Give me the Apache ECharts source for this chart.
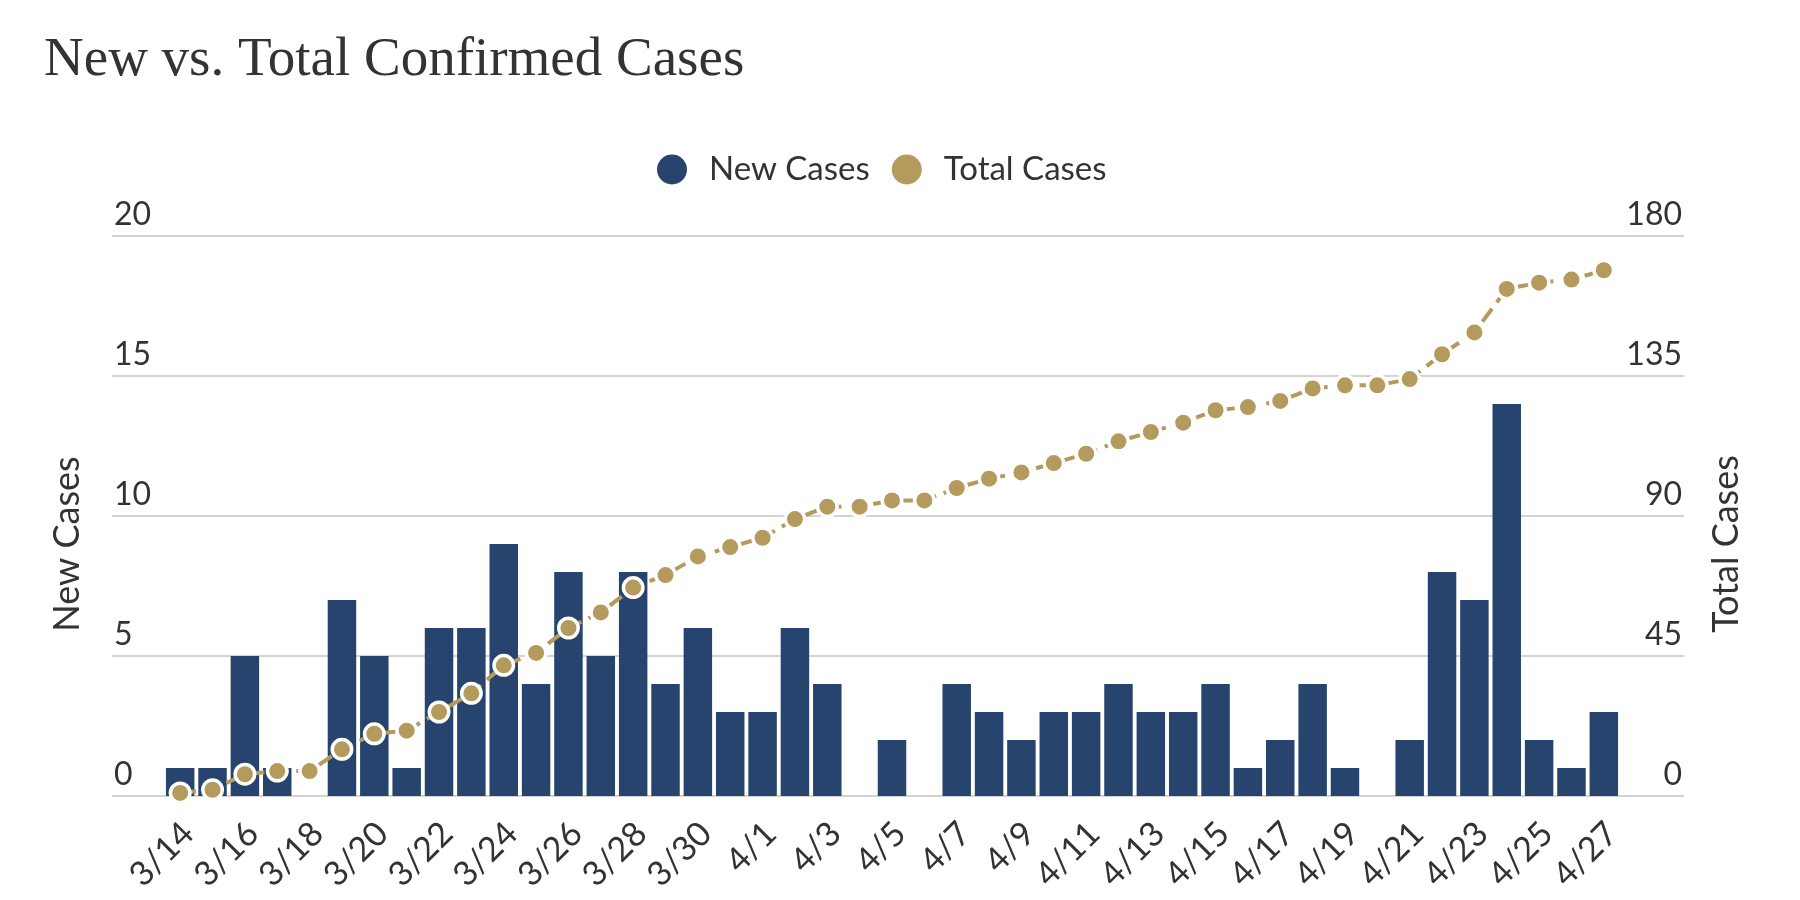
<!DOCTYPE html>
<html>
<head>
<meta charset="utf-8">
<script src="https://cdn.jsdelivr.net/npm/echarts@6/dist/echarts.min.js"></script>
<style>
html,body{margin:0;padding:0;background:#fff;}
#chart{width:1800px;height:900px;}
</style>
</head>
<body>
<div id="chart"></div>
<script>
var categories = ['3/14','3/15','3/16','3/17','3/18','3/19','3/20','3/21','3/22','3/23','3/24','3/25','3/26','3/27','3/28','3/29','3/30','3/31',
  '4/1','4/2','4/3','4/4','4/5','4/6','4/7','4/8','4/9','4/10','4/11','4/12','4/13','4/14','4/15','4/16','4/17','4/18','4/19','4/20','4/21','4/22','4/23','4/24','4/25','4/26','4/27'];
var newCases = [1,1,5,1,0,7,5,1,6,6,9,4,8,5,8,4,6,3,
  3,6,4,0,2,0,4,3,2,3,3,4,3,3,4,1,2,4,1,0,2,8,7,14,2,1,3];
var totalCases = [1,2,7,8,8,15,20,21,27,33,42,46,54,59,67,71,77,80,
  83,89,93,93,95,95,99,102,104,107,110,114,117,120,124,125,127,131,132,132,134,142,149,163,165,166,169];
var leftTicks = {min:0, max:20, interval:5};
var rightTicks = {min:0, max:180, interval:45};

var navy = '#26446d';
var gold = '#b59a5d';
var textColor = '#333333';
var sans = 'Lato';

var chart = echarts.init(document.getElementById('chart'), null, {renderer:'canvas'});
chart.setOption({
  animation:false,
  backgroundColor:'#ffffff',
  title:{
    text:'New vs. Total Confirmed Cases',
    left:44, top:33, padding:0,
    textStyle:{fontFamily:'Liberation Serif', fontWeight:'normal', fontSize:55, color:textColor}
  },
  legend:{
    left:657, top:153, padding:0,
    icon:'circle', itemWidth:30, itemHeight:30, itemGap:22,
    itemStyle:{borderWidth:0},
    textStyle:{fontFamily:sans, fontSize:33, color:textColor, padding:[0,0,0,17]},
    data:['New Cases','Total Cases']
  },
  grid:[
    {left:112, right:116, top:236, bottom:104},
    {left:164, right:180, top:236, bottom:104}
  ],
  xAxis:[
    {gridIndex:0, type:'value', min:0, max:1, show:false},
    {gridIndex:1, type:'category', data:categories,
     axisLine:{show:false}, axisTick:{show:false},
     axisLabel:{interval:1, rotate:45, margin:24, verticalAlign:'top', lineHeight:23, fontFamily:sans, fontSize:34, color:textColor, hideOverlap:false}}
  ],
  yAxis:[
    {gridIndex:0, type:'value', position:'left', min:leftTicks.min, max:leftTicks.max, interval:leftTicks.interval,
     name:'New Cases', nameLocation:'middle', nameRotate:90, nameGap:26.5,
     nameTextStyle:{fontFamily:sans, fontSize:36, color:textColor, padding:[0,56,0,0]},
     axisLine:{show:false}, axisTick:{show:false},
     splitLine:{show:true, lineStyle:{color:'#d3d3d3', width:2}},
     axisLabel:{inside:true, margin:2, verticalAlign:'bottom', padding:[0,0,5,0], fontFamily:sans, fontSize:32, color:textColor}},
    {gridIndex:0, type:'value', position:'right', min:rightTicks.min, max:rightTicks.max, interval:rightTicks.interval,
     name:'Total Cases', nameLocation:'middle', nameRotate:90, nameGap:24,
     nameTextStyle:{fontFamily:sans, fontSize:36, color:textColor, padding:[0,56,0,0]},
     axisLine:{show:false}, axisTick:{show:false},
     splitLine:{show:false},
     axisLabel:{inside:true, margin:2, verticalAlign:'bottom', padding:[0,0,5,0], fontFamily:sans, fontSize:32, color:textColor}},
    {gridIndex:1, type:'value', min:leftTicks.min, max:leftTicks.max, interval:leftTicks.interval, show:false, splitLine:{show:false}},
    {gridIndex:1, type:'value', min:rightTicks.min, max:rightTicks.max, interval:rightTicks.interval, show:false, splitLine:{show:false}}
  ],
  series:[
    {name:'New Cases', type:'bar', xAxisIndex:1, yAxisIndex:2, data:newCases,
     barCategoryGap:'12%', itemStyle:{color:navy}},
    {name:'Total Cases', type:'line', xAxisIndex:1, yAxisIndex:3, data:totalCases,
     symbol:'circle', symbolSize:19.5, showSymbol:true,
     itemStyle:{color:gold, borderColor:'#ffffff', borderWidth:3.5},
     lineStyle:{color:gold, width:4, type:[16,8]}, z:5}
  ]
});
</script>
</body>
</html>
